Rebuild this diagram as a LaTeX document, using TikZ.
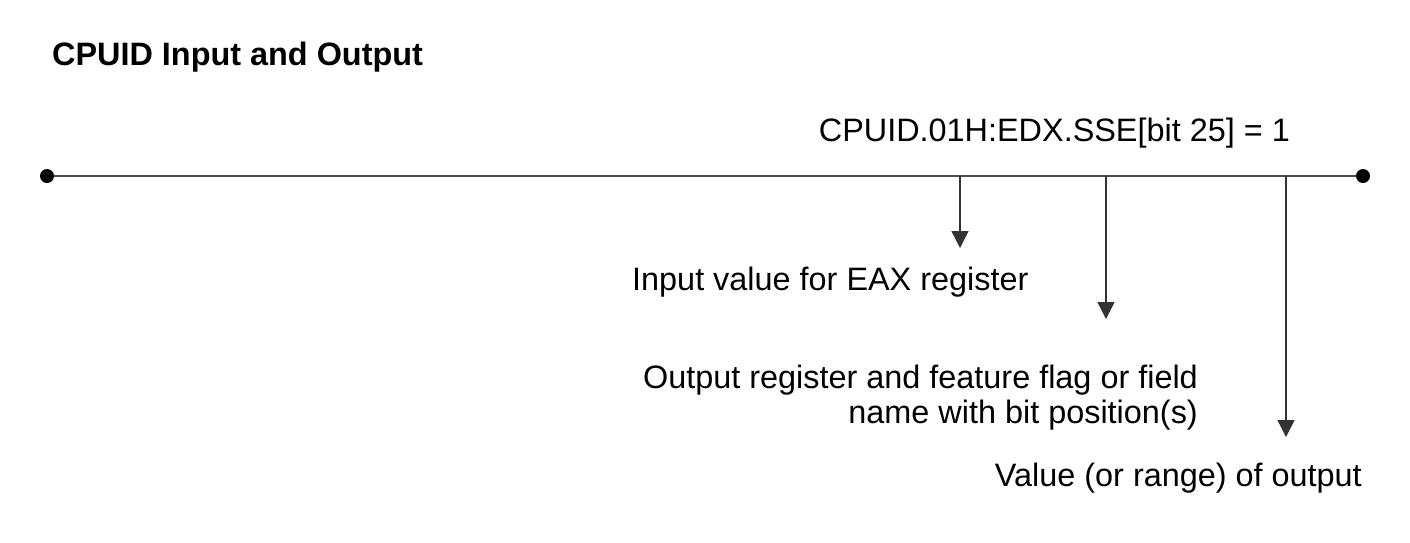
\documentclass[tikz,border=0pt]{standalone}
\usepackage{fontspec}
\setmainfont{Liberation Sans}
\usetikzlibrary{arrows.meta}
\begin{document}
\begin{tikzpicture}[x=1pt,y=-1pt,
  lbl/.style={inner sep=0pt,font=\fontsize{32.4}{37}\selectfont},
  ttl/.style={inner sep=0pt,font=\fontsize{32.4}{37}\selectfont\bfseries},
  dot/.style={circle,fill=black,inner sep=0pt,minimum size=14pt},
  mainline/.style={draw=black!70,line width=1.8pt},
  ptr/.style={draw=black!80,line width=1.4pt,-{Triangle[width=17pt,length=17pt]}}]
\useasboundingbox (0,0) rectangle (1410,542);
\node[ttl,anchor=base west] (title) at (52,65) {CPUID Input and Output};
\node[lbl,anchor=base east] (expr) at (1290,141) {CPUID.01H:EDX.SSE[bit 25] = 1};
\node[dot] (L) at (47,176) {};
\node[dot] (R) at (1363,176) {};
\draw[mainline] (L) -- (R);
\coordinate (a1) at (960,176);
\coordinate (a2) at (1106,176);
\coordinate (a3) at (1286,176);
\coordinate (t1) at (960,248);
\coordinate (t2) at (1106,319);
\coordinate (t3) at (1286,437);
\draw[ptr] (a1) -- (t1);
\draw[ptr] (a2) -- (t2);
\draw[ptr] (a3) -- (t3);
\node[lbl,anchor=base west] (inp) at (632,290) {Input value for EAX register};
\node[lbl,anchor=base east] (out1) at (1198,388) {Output register and feature flag or field};
\node[lbl,anchor=base east] (out2) at (1198,423) {name with bit position(s)};
\node[lbl,anchor=base east] (val) at (1362,486) {Value (or range) of output};
\end{tikzpicture}
\end{document}
